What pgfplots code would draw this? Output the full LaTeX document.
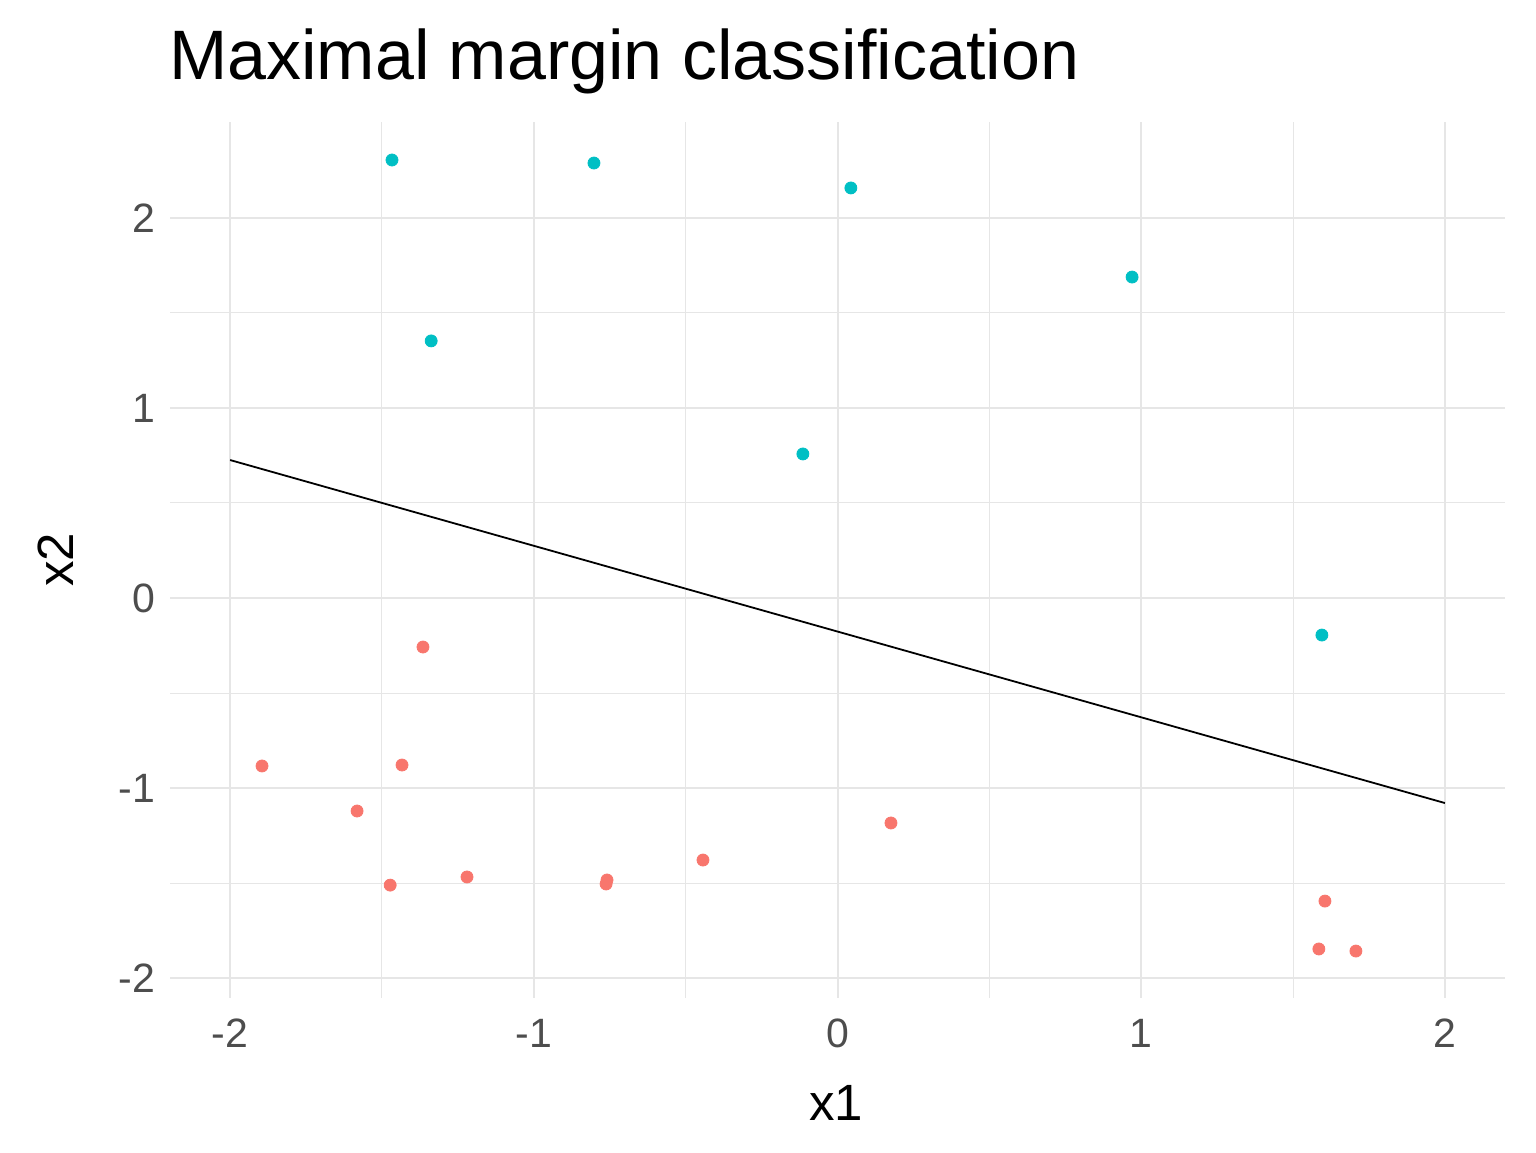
\documentclass[border=0pt]{standalone}
\usepackage{pgfplots}
\pgfplotsset{compat=1.18}
\usepackage{fontspec}
\setmainfont{Liberation Sans}
\definecolor{cred}{HTML}{F8766D}
\definecolor{cblue}{HTML}{00BFC4}
\definecolor{tickc}{HTML}{4D4D4D}
\definecolor{gridc}{HTML}{E6E6E6}
\begin{document}
\begin{tikzpicture}
\useasboundingbox (0,0) rectangle (768pt,576pt);
\begin{axis}[at={(85pt,77pt)}, anchor=south west, scale only axis,
 width=667.5pt, height=438pt,
 xmin=-2.198, xmax=2.198, ymin=-2.105, ymax=2.505,
 axis line style={draw=none}, tick style={draw=none},
 xtick={-2,-1,0,1,2}, ytick={-2,-1,0,1,2},
 minor xtick={-1.5,-0.5,0.5,1.5}, minor ytick={-1.5,-0.5,0.5,1.5},
 grid=both, major grid style={gridc, line width=1pt}, minor grid style={gridc, line width=0.5pt},
 /pgf/number format/assume math mode=true,
 ticklabel style={font=\fontsize{20.5}{24}\selectfont, text=tickc},
 xticklabel style={yshift=-7pt}, yticklabel style={xshift=-4pt},
 clip=false]
\addplot[only marks, mark=*, mark size=3pt, mark options={draw=cblue, fill=cblue}] coordinates {
(-1.467,2.305) (-0.802,2.289) (0.044,2.158) (0.970,1.689) (-1.338,1.353) (-0.114,0.758) (1.595,-0.195)};
\addplot[only marks, mark=*, mark size=3pt, mark options={draw=cred, fill=cred}] coordinates {
(-1.895,-0.884) (-1.365,-0.258) (-1.434,-0.879) (-1.582,-1.121) (-1.473,-1.511) (-1.220,-1.468)
(-0.759,-1.484) (-0.762,-1.505) (-0.443,-1.379) (0.176,-1.184) (1.605,-1.595) (1.585,-1.847) (1.707,-1.858)};
\addplot[black, line width=0.9pt] coordinates {(-2,0.726) (2,-1.079)};
\end{axis}
\node[anchor=base west, font=\fontsize{35}{40}\selectfont] at (81pt,536pt) {Maximal margin classification};
\node[anchor=base, font=\fontsize{25.5}{30}\selectfont] at (418pt,16pt) {x1};
\node[rotate=90, font=\fontsize{25.5}{30}\selectfont] at (28pt,296pt) {x2};
\end{tikzpicture}
\end{document}
